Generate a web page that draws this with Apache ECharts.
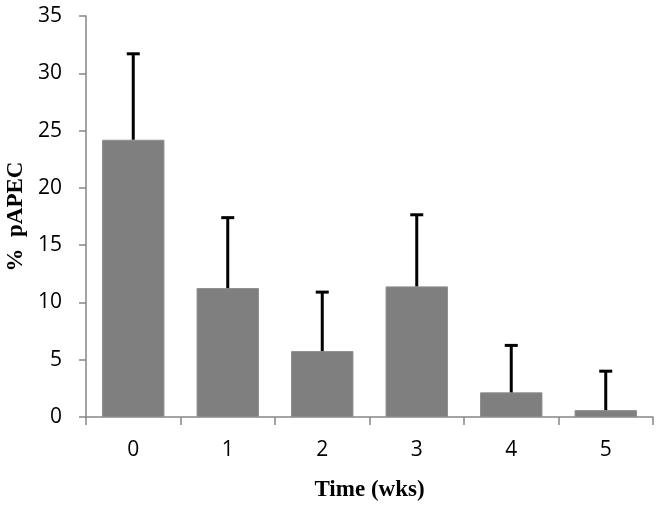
<!DOCTYPE html>
<html>
<head>
<meta charset="utf-8">
<script src="https://cdn.jsdelivr.net/npm/echarts@6/dist/echarts.min.js"></script>
<style>
  html, body { margin: 0; padding: 0; background: #fff; }
  #chart { width: 662px; height: 507px; }
</style>
</head>
<body>
<div id="chart"></div>
<script>
// weeks on the x axis
var weeks = ["0", "1", "2", "3", "4", "5"];
// mean % pAPEC (bar heights)
var meanValues = [24.2, 11.25, 5.75, 11.4, 2.15, 0.6];
// top of the error bar (mean + SD)
var errorTops = [31.7, 17.4, 10.9, 17.65, 6.25, 4.0];

var chart = echarts.init(document.getElementById("chart"));

var errData = weeks.map(function (w, i) {
  return [i, meanValues[i], errorTops[i]];
});

var option = {
  animation: false,
  grid: { left: 86, right: 9, top: 16, bottom: 90, outerBoundsMode: "none", containLabel: false },
  xAxis: {
    type: "category",
    data: weeks,
    name: "Time (wks)",
    nameLocation: "middle",
    nameGap: 62,
    nameTextStyle: { fontFamily: "Liberation Serif", fontWeight: "bold", fontSize: 23, color: "#000" },
    axisLine: { lineStyle: { color: "#868686", width: 1.5 } },
    axisTick: { show: true, length: 8, lineStyle: { color: "#868686", width: 1.5 } },
    axisLabel: { margin: 23, fontFamily: "Open Sans", fontSize: 21, color: "#000" }
  },
  yAxis: {
    type: "value",
    min: 0,
    max: 35,
    interval: 5,
    name: "%  pAPEC",
    nameLocation: "middle",
    nameGap: 56,
    nameRotate: 90,
    nameTextStyle: { fontFamily: "Liberation Serif", fontWeight: "bold", fontSize: 23, color: "#000" },
    axisLine: { show: true, lineStyle: { color: "#868686", width: 1.5 } },
    axisTick: { show: true, length: 7, lineStyle: { color: "#868686", width: 1.5 } },
    splitLine: { show: false },
    axisLabel: { margin: 24, fontFamily: "Open Sans", fontSize: 21, color: "#000" }
  },
  series: [
    {
      type: "bar",
      data: meanValues,
      barWidth: "66%",
      itemStyle: { color: "#7f7f7f", borderColor: "#8c8c8c", borderWidth: 1 }
    },
    {
      type: "custom",
      data: errData,
      z: 10,
      renderItem: function (params, api) {
        var base = api.coord([api.value(0), api.value(1)]);
        var top = api.coord([api.value(0), api.value(2)]);
        var x = base[0];
        var half = 6.5;
        var style = { stroke: "#000", lineWidth: 3 };
        return {
          type: "group",
          children: [
            { type: "line", shape: { x1: x, y1: base[1], x2: x, y2: top[1] }, style: style },
            { type: "line", shape: { x1: x - half, y1: top[1], x2: x + half, y2: top[1] }, style: style }
          ]
        };
      }
    }
  ]
};

chart.setOption(option);
</script>
</body>
</html>
